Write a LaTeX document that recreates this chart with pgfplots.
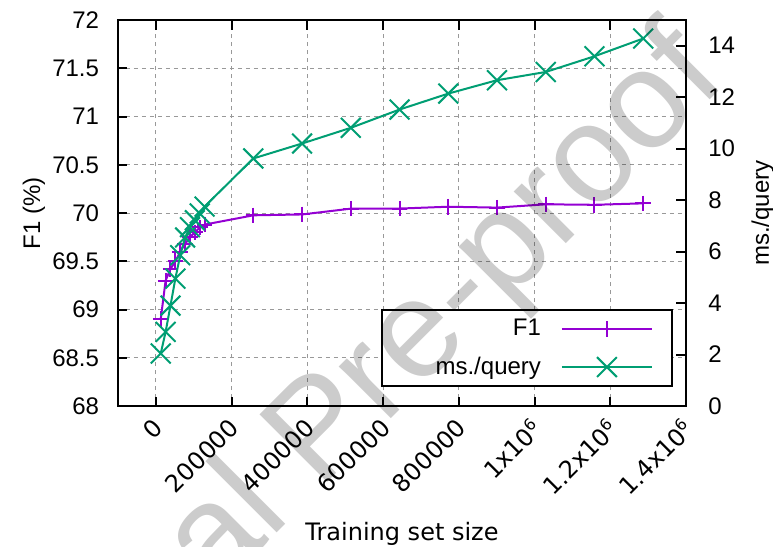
\documentclass[border=0pt]{standalone}
\usepackage{fontspec}
\setmainfont{Liberation Sans}
\newfontfamily\dejavu{DejaVu Sans}
\usepackage{pgfplots}
\usepackage{pgfplotstable}
\pgfplotsset{compat=1.18}
\definecolor{f1col}{RGB}{148,0,211}
\definecolor{mscol}{RGB}{0,158,115}
\pgfplotstableread{
x f1 ms
12870 68.90 2.04
25740 69.30 2.88
38610 69.42 3.90
51480 69.50 4.95
64350 69.60 5.86
77220 69.68 6.55
90090 69.75 6.95
102960 69.80 7.22
115830 69.85 7.48
128700 69.88 7.75
257400 69.976 9.62
386100 69.985 10.20
514800 70.045 10.81
643500 70.046 11.52
772200 70.065 12.14
900900 70.056 12.66
1029600 70.09 12.98
1158300 70.085 13.59
1287000 70.10 14.28
}\datatable
\pgfplotsset{
  common/.style={
    scale only axis, width=284pt, height=193pt,
    at={(0,0)}, anchor=south west,
    xmin=-100000, xmax=1400000,
    scaled x ticks=false, scaled y ticks=false,
    tick align=inside,
    major tick length=4.75pt,
    every tick/.style={black, line width=1pt},
    axis line style={line width=1pt},
    /pgf/number format/assume math mode=true,
    label style={font=\fontsize{12}{14}\selectfont},
    yticklabel style={font=\fontsize{12}{14}\selectfont, inner sep=0pt},
  },
  f1style/.style={color=f1col, line width=1pt, mark=+, mark size=3.9pt, mark options={solid, line width=1pt}},
  msstyle/.style={color=mscol, line width=1pt, mark=x, mark size=7pt, mark options={solid, line width=1pt}},
}
\begin{document}
\begin{tikzpicture}
\begin{axis}[common,
  ymin=68, ymax=72,
  ytick={68,68.5,69,69.5,70,70.5,71,71.5,72},
  yticklabels={68,68.5,69,69.5,70,70.5,71,71.5,72},
  ytick pos=left,
  xtick={0,200000,400000,600000,800000,1000000,1200000,1400000},
  xticklabels={0,200000,400000,600000,800000,1x10\textsuperscript{6},1.2x10\textsuperscript{6},1.4x10\textsuperscript{6}},
  xtick pos=both,
  xticklabel pos=bottom,
  grid=major,
  major grid style={black!40, line width=0.5pt, dash pattern=on 2pt off 2pt},
  xticklabel style={font=\dejavu\fontsize{12}{14}\selectfont, inner sep=0pt, xshift=1.5pt, yshift=-8.5pt, rotate=45, anchor=east},
  yticklabel style={xshift=-9.3pt},
  xlabel={Training set size},
  xlabel style={font=\dejavu\fontsize{12}{14}\selectfont, at={(axis description cs:0.5,-0.3472)}, anchor=base},
  ylabel={F1 (\%)},
  ylabel style={at={(axis description cs:-0.1373,0.5)}, anchor=base},
]
\addplot[f1style] table[x=x,y=f1]{\datatable};
\end{axis}
\begin{axis}[common,
  ymin=0, ymax=15,
  ytick={0,2,4,6,8,10,12,14},
  yticklabels={0,2,4,6,8,10,12,14},
  axis y line*=right,
  axis x line=none,
  yticklabel style={xshift=11pt},
  ylabel={ms./query},
  ylabel style={at={(axis description cs:1.1461,0.5)}, anchor=base, rotate=0},
  legend style={at={(0.977,0.049)}, anchor=south east, draw=black, line width=1pt, fill=white,
    inner sep=0pt, row sep=0pt, column sep=10pt, font=\fontsize{12}{14}\selectfont,
    nodes={inner sep=0pt}},
  legend plot pos=right,
  legend cell align=right,
  legend image code/.code={
    \path[draw=none, fill=none] (0pt,-9.5pt) rectangle (55pt,9.5pt);
    \draw[mark repeat=2,mark phase=2,#1] plot coordinates {(0pt,0pt)(22.5pt,0pt)(45pt,0pt)};
  },
]
\addlegendimage{f1style}
\addlegendentry{\makebox[79.5pt][r]{F1}}
\addplot[msstyle] table[x=x,y=ms]{\datatable};
\addlegendentry{\makebox[79.5pt][r]{ms./query}}
\end{axis}
\node[anchor=base west, rotate=45, inner sep=0pt, text=black, opacity=0.2, font=\fontsize{69.5}{80}\selectfont] at (-74.35pt,-217.35pt) {Journal Pre-proof};
\pgfresetboundingbox
\path (-59pt,-70.5pt) rectangle (327.5pt,203pt);
\end{tikzpicture}
\end{document}
